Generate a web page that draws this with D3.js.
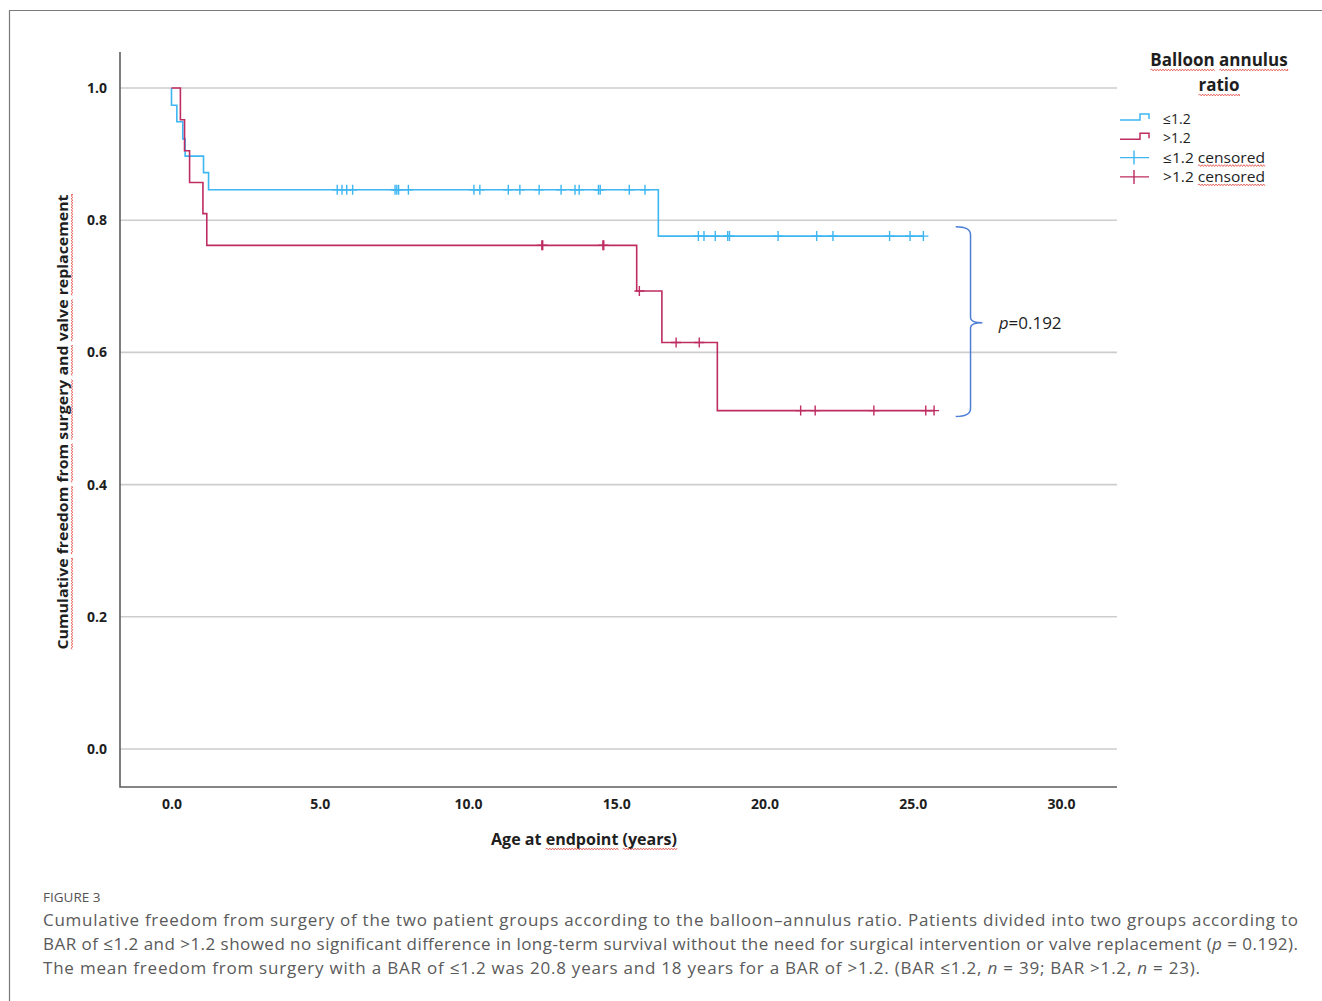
<!DOCTYPE html>
<html>
<head>
<meta charset="utf-8">
<script src="https://cdn.jsdelivr.net/npm/d3@7"></script>
<style>
  body { margin: 0; background: #fff; }
  svg { display: block; }
</style>
</head>
<body>
<figure style="margin:0"></figure>
<script>
// axis ticks
const yTicks = [0, 0.2, 0.4, 0.6, 0.8, 1.0];
const xTicks = [0, 5, 10, 15, 20, 25, 30];

// BAR <= 1.2 : step drops (time, survival after drop), censored times, last follow-up
const lowEventTimes = [0.0, 0.18, 0.38, 0.46, 1.08, 1.25, 16.42];
const lowEventSurv = [0.974, 0.949, 0.923, 0.897, 0.872, 0.846, 0.776];
const lowCensorTimes = [5.59, 5.75, 5.91, 6.11, 7.54, 7.60, 7.66, 7.99, 10.20, 10.40, 11.36, 11.75,
  12.40, 13.14, 13.61, 13.75, 14.40, 14.46, 15.44, 15.97,
  17.77, 17.96, 18.34, 18.76, 18.82, 20.46, 21.76, 22.31, 24.22, 24.91, 25.36];
const lowEndTime = 25.36;

// BAR > 1.2
const highEventTimes = [0.30, 0.44, 0.61, 1.06, 1.19, 15.69, 16.54, 18.41];
const highEventSurv = [0.952, 0.905, 0.857, 0.810, 0.762, 0.693, 0.615, 0.512];
const highCensorTimes = [12.49, 12.52, 14.55, 14.58, 15.78, 17.02, 17.80, 21.22, 21.71, 23.69, 25.44, 25.72];
const highEndTime = 25.72;

const legendLabels = ['≤1.2', '>1.2', '≤1.2 censored', '>1.2 censored'];
const pValueText = '0.192';

const captionLines = [
  [['Cumulative freedom from surgery of the two patient groups according to the balloon–annulus ratio. Patients divided into two groups according to', false]],
  [['BAR of ≤1.2 and >1.2 showed no significant difference in long-term survival without the need for surgical intervention or valve replacement (', false], ['p', true], [' = 0.192).', false]],
  [['The mean freedom from surgery with a BAR of ≤1.2 was 20.8 years and 18 years for a BAR of >1.2. (BAR ≤1.2, ', false], ['n', true], [' = 39; BAR >1.2, ', false], ['n', true], [' = 23).', false]]
];

(() => {
  const totalWidth = 1322;
  const totalHeight = 1001;
  const margin = {top: 52, left: 120};
  const graphWidth = 997;
  const graphHeight = 735;

  const blue = '#3db6f2';
  const red = '#be2c61';
  const font = '"Open Sans", "Noto Sans", sans-serif';

  const svg = d3.select('figure').append('svg')
    .attr('width', totalWidth)
    .attr('height', totalHeight)
    .style('font-family', font);

  // page frame
  svg.append('path')
    .attr('d', `M9.5,${totalHeight}V10.5H${totalWidth}`)
    .attr('fill', 'none')
    .attr('stroke', '#7a7a7a')
    .attr('stroke-width', 1.2);

  const g = svg.append('g')
    .attr('transform', `translate(${margin.left}, ${margin.top})`);

  const x = d3.scaleLinear()
    .domain([-1.737, 31.89])
    .range([0, graphWidth]);

  const y = d3.scaleLinear()
    .domain([-0.0575, 1.0545])
    .range([graphHeight, 0]);

  // wavy spell-check underline under chars [from, to) of a text element
  function squiggle(parent, textSel, from, to, baseY) {
    const node = textSel.node();
    const x0 = node.getStartPositionOfChar(from).x;
    const x1 = node.getEndPositionOfChar(to - 1).x;
    let d = `M${x0},${baseY}`;
    let up = true;
    for (let xx = x0; xx < x1; xx += 1.4) {
      d += `L${Math.min(xx + 1.4, x1)},${baseY + (up ? -0.9 : 0.9)}`;
      up = !up;
    }
    parent.append('path')
      .attr('d', d)
      .attr('fill', 'none')
      .attr('stroke', '#e2463f')
      .attr('stroke-width', 0.8);
  }

  function underlineWords(parent, textSel, words, baseY) {
    const str = textSel.text();
    words.forEach(w => {
      const i = str.indexOf(w);
      if (i >= 0) squiggle(parent, textSel, i, i + w.length, baseY);
    });
  }

  // grid lines
  g.append('g').selectAll('line')
    .data(yTicks)
    .join('line')
      .attr('x1', 0)
      .attr('x2', graphWidth)
      .attr('y1', d => y(d))
      .attr('y2', d => y(d))
      .attr('stroke', '#cdcdcd')
      .attr('stroke-width', 1.6);

  // axes (labels only, lines drawn below)
  const yAxis = d3.axisLeft(y).tickValues(yTicks).tickFormat(d3.format('.1f')).tickSize(0).tickPadding(13);
  const xAxis = d3.axisBottom(x).tickValues(xTicks).tickFormat(d3.format('.1f')).tickSize(0).tickPadding(12);

  const yGroup = g.append('g').call(yAxis);
  const xGroup = g.append('g').attr('transform', `translate(0, ${graphHeight})`).call(xAxis);
  [yGroup, xGroup].forEach(a => {
    a.select('.domain').remove();
    a.selectAll('text')
      .attr('font-family', font)
      .attr('font-size', 14)
      .attr('font-weight', 700)
      .attr('fill', '#1e1e1e');
  });

  g.append('path')
    .attr('d', `M0,0V${graphHeight}H${graphWidth}`)
    .attr('fill', 'none')
    .attr('stroke', '#5e5e5e')
    .attr('stroke-width', 1.6);

  // survival step curves
  const stepLine = d3.line()
    .curve(d3.curveStepAfter)
    .x(d => x(d[0]))
    .y(d => y(d[1]));

  function survivalAt(times, surv, t) {
    let s = 1;
    times.forEach((et, i) => { if (et <= t) s = surv[i]; });
    return s;
  }

  function drawGroup(times, surv, censors, endTime, color) {
    const pts = [[0, 1]].concat(times.map((t, i) => [t, surv[i]]));
    pts.push([endTime, surv[surv.length - 1]]);
    g.append('path')
      .datum(pts)
      .attr('d', stepLine)
      .attr('fill', 'none')
      .attr('stroke', color)
      .attr('stroke-width', 1.6);

    g.append('g').selectAll('path')
      .data(censors)
      .join('path')
        .attr('d', t => {
          const cx = x(t);
          const cy = y(survivalAt(times, surv, t));
          return `M${cx - 5},${cy}H${cx + 5}M${cx},${cy - 5}V${cy + 5}`;
        })
        .attr('stroke', color)
        .attr('stroke-width', 1.4);
  }

  drawGroup(lowEventTimes, lowEventSurv, lowCensorTimes, lowEndTime, blue);
  drawGroup(highEventTimes, highEventSurv, highCensorTimes, highEndTime, red);

  // p-value bracket
  const bx0 = x(26.45), bx1 = x(26.95), btip = x(27.35);
  const bTop = y(0.79), bBot = y(0.503), bMid = y(0.645);
  g.append('path')
    .attr('d', `M${bx0},${bTop}Q${bx1},${bTop} ${bx1},${bTop + 8}V${bMid - 5}Q${bx1},${bMid} ${btip},${bMid}` +
      `Q${bx1},${bMid} ${bx1},${bMid + 5}V${bBot - 8}Q${bx1},${bBot} ${bx0},${bBot}`)
    .attr('fill', 'none')
    .attr('stroke', '#4d7fd6')
    .attr('stroke-width', 1.5);

  const pText = g.append('text')
    .attr('x', x(27.9))
    .attr('y', bMid)
    .attr('dy', '0.35em')
    .attr('font-size', 17)
    .attr('fill', '#1e1e1e');
  pText.append('tspan').attr('font-style', 'italic').text('p');
  pText.append('tspan').text('=' + pValueText);

  // axis titles
  const yTitleG = svg.append('g').attr('transform', `translate(63, 422) rotate(-90)`);
  const yTitle = yTitleG.append('text')
    .attr('x', 0)
    .attr('y', 0)
    .attr('dy', '0.35em')
    .attr('text-anchor', 'middle')
    .attr('font-size', 15)
    .attr('font-weight', 700)
    .attr('fill', '#1e1e1e')
    .attr('textLength', 455)
    .attr('lengthAdjust', 'spacingAndGlyphs')
    .text('Cumulative freedom from surgery and valve replacement');
  underlineWords(yTitleG, yTitle, ['Cumulative', 'freedom', 'from', 'surgery', 'and', 'valve', 'replacement'], 9);

  const xTitleG = svg.append('g').attr('transform', 'translate(584, 839)');
  const xTitle = xTitleG.append('text')
    .attr('dy', '0.35em')
    .attr('text-anchor', 'middle')
    .attr('font-size', 16)
    .attr('font-weight', 700)
    .attr('fill', '#1e1e1e')
    .attr('textLength', 186)
    .attr('lengthAdjust', 'spacingAndGlyphs')
    .text('Age at endpoint (years)');
  underlineWords(xTitleG, xTitle, ['endpoint', '(years)'], 10);

  // legend
  const legend = svg.append('g');
  [['Balloon annulus', 60], ['ratio', 85]].forEach(([t, cy]) => {
    const lt = legend.append('text')
      .attr('x', 1219)
      .attr('y', cy)
      .attr('dy', '0.35em')
      .attr('text-anchor', 'middle')
      .attr('font-size', 17)
      .attr('font-weight', 700)
      .attr('fill', '#1e1e1e')
      .text(t);
    underlineWords(legend, lt, t.split(' '), cy + 10);
  });

  const legendColors = [blue, red, blue, red];
  legendLabels.forEach((label, i) => {
    const cy = 119 + i * 19.3;
    const color = legendColors[i];
    if (i < 2) {
      legend.append('path')
        .attr('d', `M1120,${cy + 1}H1140V${cy - 5}H1149V${cy}`)
        .attr('fill', 'none')
        .attr('stroke', color)
        .attr('stroke-width', 1.5);
    } else {
      legend.append('path')
        .attr('d', `M1120,${cy}H1149M1134,${cy - 7}V${cy + 7}`)
        .attr('stroke', color)
        .attr('stroke-width', 1.4);
    }
    const lt = legend.append('text')
      .attr('x', 1163)
      .attr('y', cy)
      .attr('dy', '0.35em')
      .attr('font-size', 14)
      .attr('fill', '#1e1e1e')
      .attr('textLength', label.length > 5 ? 102 : null)
      .attr('lengthAdjust', 'spacingAndGlyphs')
      .text(label);
    if (i >= 2) underlineWords(legend, lt, ['censored'], cy + 8);
  });

  // caption
  svg.append('text')
    .attr('x', 43)
    .attr('y', 902)
    .attr('font-size', 13.5)
    .attr('fill', '#555')
    .text('FIGURE 3');

  const lineLengths = [1255, 1255, 1157];
  captionLines.forEach((parts, i) => {
    const t = svg.append('text')
      .attr('x', 43)
      .attr('y', 926 + i * 24)
      .attr('font-size', 17)
      .attr('fill', '#5a5a5a')
      .attr('textLength', lineLengths[i])
      .attr('lengthAdjust', 'spacing');
    parts.forEach(([s, it]) => {
      t.append('tspan').attr('font-style', it ? 'italic' : null).text(s);
    });
  });
})();
</script>
</body>
</html>
